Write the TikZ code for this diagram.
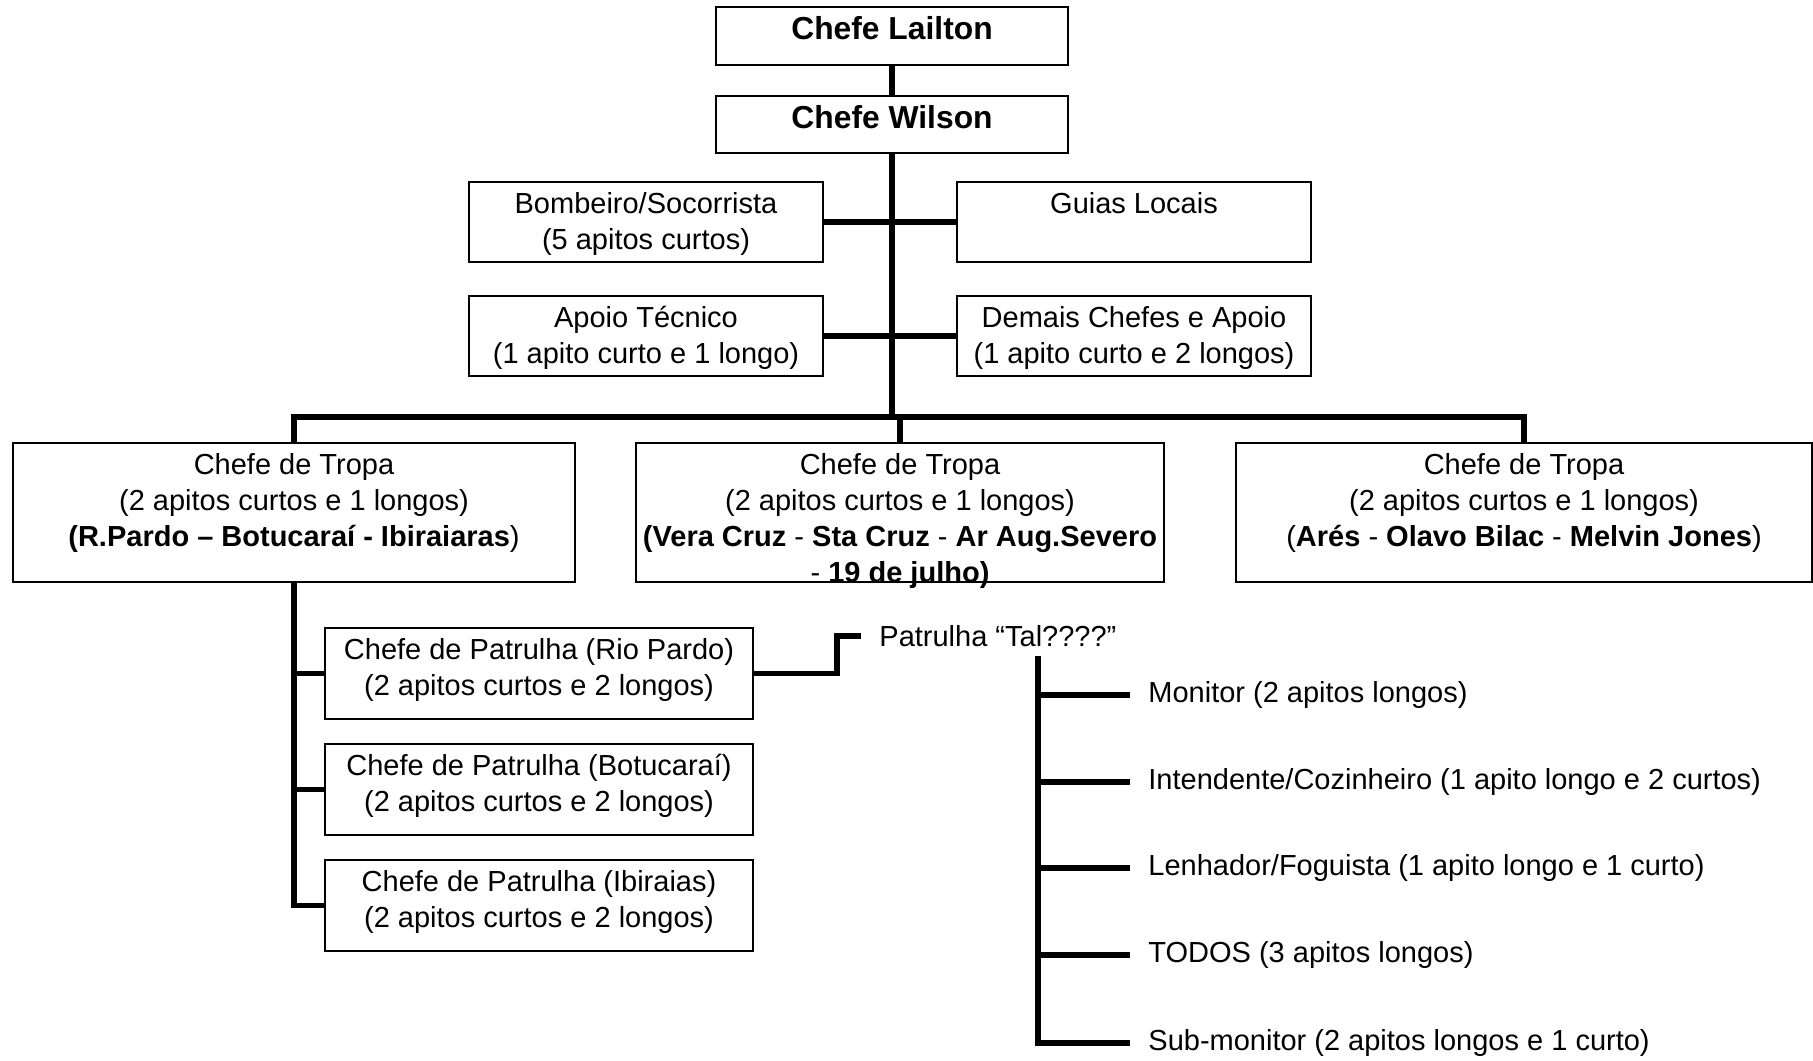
\documentclass[tikz,border=0pt]{standalone}
\usepackage{fontspec}
\setmainfont{Liberation Sans}
\usetikzlibrary{positioning}
\tikzstyle{box} = [draw, fill=white, rectangle, line width=1pt, inner sep=0pt]
\tikzstyle{caption} = [anchor=north, align=center, inner sep=5.5pt,
    font=\fontsize{14.5pt}{18pt}\selectfont]
\tikzstyle{role} = [anchor=west, inner xsep=9pt, inner ysep=0pt,
    font=\fontsize{14.5pt}{18pt}\selectfont]
\tikzstyle{line} = [line width=2.9pt]
\tikzset{
    txt/.style={label={[caption]north:{#1}}},
    head/.style={label={[caption, inner sep=5pt,
        font=\fontsize{15.9pt}{19pt}\selectfont\bfseries]north:{#1}}}
}

\begin{document}
\begin{tikzpicture}[x=1pt, y=-1pt]
    \useasboundingbox (0,0) rectangle (906.5,530);
    % We start with the two chiefs on top
    \node [box, minimum width=176pt, minimum height=29pt, head={Chefe Lailton}]
        (lailton) at (446,18) {};
    \node [box, minimum width=176pt, minimum height=28.5pt, head={Chefe Wilson},
        below=14.5pt of lailton] (wilson) {};
    % staff boxes on both sides of the trunk
    \node [box, minimum width=177pt, minimum height=40pt,
        txt={Bombeiro/Socorrista\\(5 apitos curtos)}] (bombeiro) at (323,111) {};
    \node [box, minimum width=177pt, minimum height=40pt, txt={Guias Locais},
        right=66pt of bombeiro] (guias) {};
    \node [box, minimum width=177pt, minimum height=40pt,
        txt={Apoio Técnico\\(1 apito curto e 1 longo)},
        below=16pt of bombeiro] (apoio) {};
    \node [box, minimum width=177pt, minimum height=40pt,
        txt={Demais Chefes e Apoio\\(1 apito curto e 2 longos)},
        right=66pt of apoio] (demais) {};
    \coordinate (bar) at (446,208.5);

    % the three troops
    \node [box, minimum width=281pt, minimum height=69.5pt,
        txt={Chefe de Tropa\\(2 apitos curtos e 1 longos)\\
        \textbf{(R.Pardo – Botucaraí - Ibiraiaras})}] (tropa1) at (147,256.25) {};
    \node [box, minimum width=264pt, minimum height=69.5pt,
        txt={Chefe de Tropa\\(2 apitos curtos e 1 longos)\\
        \textbf{(Vera Cruz} - \textbf{Sta Cruz} - \textbf{Ar Aug.Severo}\\
        - \textbf{19 de julho)}}] (tropa2) at (450,256.25) {};
    \node [box, minimum width=288pt, minimum height=69.5pt,
        txt={Chefe de Tropa\\(2 apitos curtos e 1 longos)\\
        (\textbf{Arés} - \textbf{Olavo Bilac} - \textbf{Melvin Jones})}]
        (tropa3) at (762,256.25) {};

    % patrols of the first troop
    \node [box, minimum width=214pt, minimum height=45.5pt,
        txt={Chefe de Patrulha (Rio Pardo)\\(2 apitos curtos e 2 longos)}]
        (riopardo) at (269.5,336.75) {};
    \node [box, minimum width=214pt, minimum height=45.5pt,
        txt={Chefe de Patrulha (Botucaraí)\\(2 apitos curtos e 2 longos)},
        below=11.5pt of riopardo] (botucarai) {};
    \node [box, minimum width=214pt, minimum height=45.5pt,
        txt={Chefe de Patrulha (Ibiraias)\\(2 apitos curtos e 2 longos)},
        below=11.5pt of botucarai] (ibiraias) {};

    % one patrol and its members
    \node [role] (tal) at (430.5,318) {Patrulha “Tal????”};
    \coordinate (fork) at (519,328);
    \node [role] (monitor) at (565,347.5) {Monitor (2 apitos longos)};
    \node [role] (intendente) at (565,391) {Intendente/Cozinheiro (1 apito longo e 2 curtos)};
    \node [role] (lenhador) at (565,434) {Lenhador/Foguista (1 apito longo e 1 curto)};
    \node [role] (todos) at (565,477.5) {TODOS (3 apitos longos)};
    \node [role] (submonitor) at (565,521.5) {Sub-monitor (2 apitos longos e 1 curto)};

    % Once the nodes are placed, connecting them is easy.
    \draw [line] (lailton) -- (wilson);
    \draw [line] (wilson) -- (bar);
    \draw [line] (bombeiro) -- (guias);
    \draw [line] (apoio) -- (demais);
    \draw [line] (tropa1.north) |- (bar) -| (tropa3.north);
    \draw [line] (bar) -| (tropa2.north);
    \draw [line] (tropa1.south) |- (ibiraias.west);
    \draw [line] (tropa1.south |- riopardo.west) -- (riopardo.west);
    \draw [line] (tropa1.south |- botucarai.west) -- (botucarai.west);
    \draw [line] (riopardo.east) -- ++(41.5,0) |- (tal.west);
    \draw [line] (fork) |- (submonitor.west);
    \draw [line] (fork |- monitor.west) -- (monitor.west);
    \draw [line] (fork |- intendente.west) -- (intendente.west);
    \draw [line] (fork |- lenhador.west) -- (lenhador.west);
    \draw [line] (fork |- todos.west) -- (todos.west);
\end{tikzpicture}
\end{document}
